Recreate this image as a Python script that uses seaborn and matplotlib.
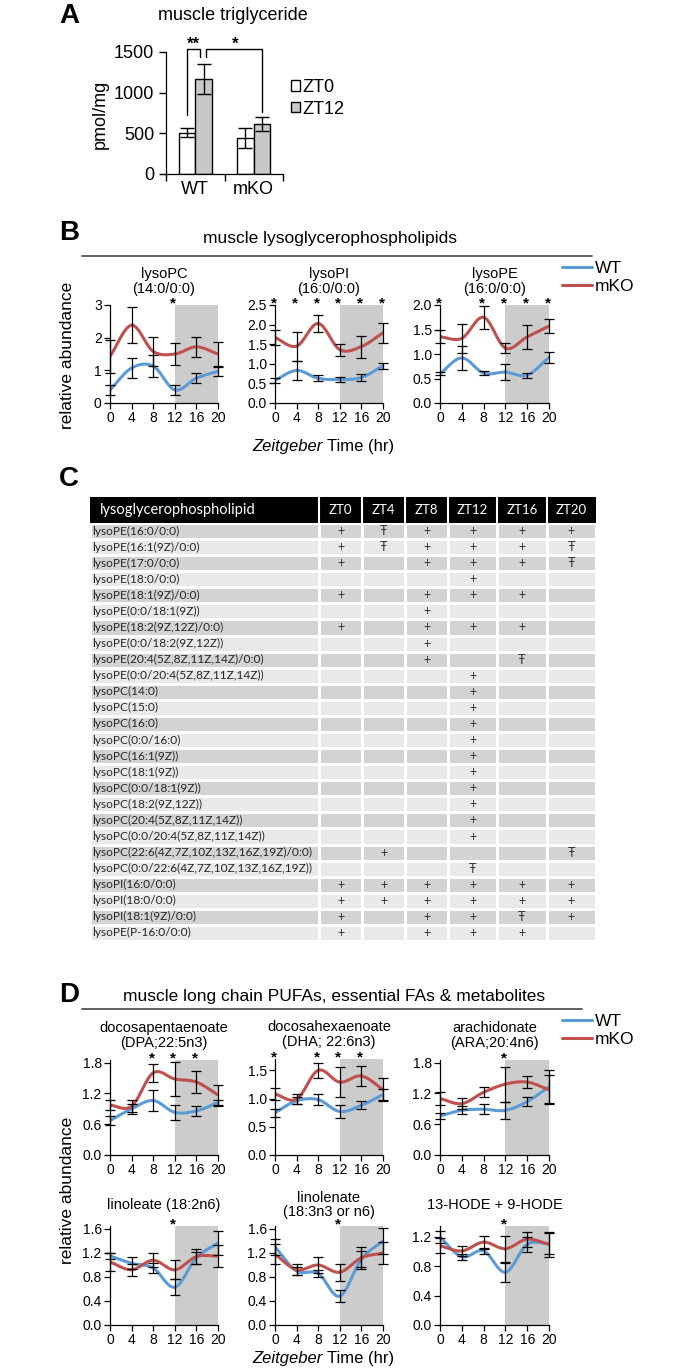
import numpy as np
import pandas as pd
import matplotlib
matplotlib.use('Agg')
import matplotlib.pyplot as plt
import seaborn as sns
from matplotlib.colors import ListedColormap
from matplotlib.lines import Line2D

sns.set_theme(style='ticks', rc={'axes.edgecolor': 'black', 'xtick.color': 'black',
                                 'ytick.color': 'black', 'text.color': 'black',
                                 'axes.labelcolor': 'black', 'axes.linewidth': 0.9})
plt.rcParams['font.family'] = ['Liberation Sans', 'DejaVu Sans']
TABLE_FONT = ['Lato', 'DejaVu Sans']

W, H = 692, 1370
BLUE = '#5b9bd5'
RED = '#c0504d'
SHADE = '#cccccc'

# ---- panel A data
tg_genotype = ['WT', 'WT', 'mKO', 'mKO']
tg_time = ['ZT0', 'ZT12', 'ZT0', 'ZT12']
tg_mean = [510, 1165, 440, 610]
tg_err = [60, 185, 125, 85]

# ---- time course data (B, D)
zt = [0, 4, 8, 12, 16, 20]

pc_wt = [0.40, 1.07, 1.13, 0.40, 0.76, 0.97]
pc_wt_err = [0.15, 0.30, 0.33, 0.15, 0.15, 0.13]
pc_ko = [1.43, 2.38, 1.58, 1.50, 1.72, 1.50]
pc_ko_err = [0.50, 0.55, 0.45, 0.35, 0.30, 0.36]
pc_stars = [12]

pi_wt = [0.58, 0.83, 0.63, 0.60, 0.65, 0.95]
pi_wt_err = [0.06, 0.25, 0.08, 0.07, 0.10, 0.08]
pi_ko = [1.67, 1.45, 2.03, 1.36, 1.44, 1.79]
pi_ko_err = [0.18, 0.37, 0.22, 0.15, 0.28, 0.25]
pi_stars = [0, 4, 8, 12, 16, 20]

pe_wt = [0.60, 0.92, 0.61, 0.63, 0.57, 0.93]
pe_wt_err = [0.03, 0.24, 0.04, 0.17, 0.05, 0.12]
pe_ko = [1.35, 1.32, 1.75, 1.12, 1.35, 1.57]
pe_ko_err = [0.13, 0.30, 0.23, 0.10, 0.25, 0.15]
pe_stars = [0, 8, 12, 16, 20]

dpa_wt = [0.67, 0.90, 1.06, 0.83, 0.86, 1.02]
dpa_wt_err = [0.09, 0.10, 0.21, 0.14, 0.10, 0.06]
dpa_ko = [0.97, 0.95, 1.60, 1.48, 1.42, 1.17]
dpa_ko_err = [0.10, 0.12, 0.18, 0.33, 0.21, 0.19]
dpa_stars = [8, 12, 16]

dha_wt = [0.75, 0.96, 0.98, 0.77, 0.88, 1.07]
dha_wt_err = [0.07, 0.06, 0.10, 0.11, 0.07, 0.10]
dha_ko = [1.08, 0.99, 1.50, 1.29, 1.40, 1.16]
dha_ko_err = [0.10, 0.09, 0.13, 0.26, 0.18, 0.21]
dha_stars = [0, 8, 12, 16]

ara_wt = [0.76, 0.87, 0.89, 0.87, 1.04, 1.33]
ara_wt_err = [0.06, 0.08, 0.10, 0.17, 0.09, 0.32]
ara_ko = [1.10, 1.00, 1.22, 1.38, 1.42, 1.27]
ara_ko_err = [0.12, 0.11, 0.10, 0.34, 0.12, 0.28]
ara_stars = [12]

la_wt = [1.15, 1.03, 0.95, 0.63, 1.12, 1.37]
la_wt_err = [0.05, 0.10, 0.08, 0.13, 0.10, 0.20]
la_ko = [1.05, 0.92, 1.08, 0.92, 1.14, 1.15]
la_ko_err = [0.15, 0.10, 0.12, 0.16, 0.12, 0.18]
la_stars = [12]

ln_wt = [1.30, 0.90, 0.86, 0.48, 1.10, 1.40]
ln_wt_err = [0.13, 0.07, 0.06, 0.10, 0.13, 0.22]
ln_ko = [1.18, 0.92, 1.00, 0.88, 1.12, 1.20]
ln_ko_err = [0.17, 0.09, 0.14, 0.14, 0.18, 0.18]
ln_stars = [12]

hode_wt = [1.20, 0.93, 1.01, 0.72, 1.10, 1.11]
hode_wt_err = [0.08, 0.04, 0.04, 0.13, 0.10, 0.14]
hode_ko = [1.08, 1.01, 1.13, 1.04, 1.17, 1.10]
hode_ko_err = [0.10, 0.07, 0.09, 0.18, 0.10, 0.17]
hode_stars = [12]

# ---- panel C table
table_cols = ['ZT0', 'ZT4', 'ZT8', 'ZT12', 'ZT16', 'ZT20']
table_lipids = [
    'lysoPE(16:0/0:0)', 'lysoPE(16:1(9Z)/0:0)', 'lysoPE(17:0/0:0)', 'lysoPE(18:0/0:0)',
    'lysoPE(18:1(9Z)/0:0)', 'lysoPE(0:0/18:1(9Z))', 'lysoPE(18:2(9Z,12Z)/0:0)',
    'lysoPE(0:0/18:2(9Z,12Z))', 'lysoPE(20:4(5Z,8Z,11Z,14Z)/0:0)',
    'lysoPE(0:0/20:4(5Z,8Z,11Z,14Z))', 'lysoPC(14:0)', 'lysoPC(15:0)', 'lysoPC(16:0)',
    'lysoPC(0:0/16:0)', 'lysoPC(16:1(9Z))', 'lysoPC(18:1(9Z))', 'lysoPC(0:0/18:1(9Z))',
    'lysoPC(18:2(9Z,12Z))', 'lysoPC(20:4(5Z,8Z,11Z,14Z))', 'lysoPC(0:0/20:4(5Z,8Z,11Z,14Z))',
    'lysoPC(22:6(4Z,7Z,10Z,13Z,16Z,19Z)/0:0)', 'lysoPC(0:0/22:6(4Z,7Z,10Z,13Z,16Z,19Z))',
    'lysoPI(16:0/0:0)', 'lysoPI(18:0/0:0)', 'lysoPI(18:1(9Z)/0:0)', 'lysoPE(P-16:0/0:0)',
]
# one string per lipid, one char per ZT column ('.' = nothing)
table_marks = [
    '+Ŧ++++', '+Ŧ+++Ŧ', '+.+++Ŧ', '...+..', '+.+++.', '..+...', '+.+++.', '..+...',
    '..+.Ŧ.', '...+..', '...+..', '...+..', '...+..', '...+..', '...+..', '...+..',
    '...+..', '...+..', '...+..', '...+..', '.+...Ŧ', '...Ŧ..', '++++++', '++++++',
    '+.++Ŧ+', '+.+++.',
]


def px_axes(l, t, r, b):
    return fig.add_axes([l / W, 1 - b / H, (r - l) / W, (b - t) / H])


def smooth(x, y, n=16):
    # catmull-rom, like excel's smoothed line
    p = np.column_stack([x, y]).astype(float)
    p = np.vstack([2 * p[0] - p[1], p, 2 * p[-1] - p[-2]])
    t = np.linspace(0, 1, n, endpoint=False)[:, None]
    out = []
    for i in range(1, len(p) - 2):
        p0, p1, p2, p3 = p[i - 1], p[i], p[i + 1], p[i + 2]
        out.append(0.5 * (2 * p1 + (p2 - p0) * t + (2 * p0 - 5 * p1 + 4 * p2 - p3) * t ** 2
                          + (3 * p1 - p0 - 3 * p2 + p3) * t ** 3))
    out.append(p[-2][None, :])
    out = np.vstack(out)
    return out[:, 0], out[:, 1]


def time_panel(box, title, wt, wt_err, ko, ko_err, stars, ymax, yticks, fmt, pad):
    ax = px_axes(*box)
    ax.axvspan(12, 20, color=SHADE, lw=0, zorder=0)
    for vals, col in [(wt, BLUE), (ko, RED)]:
        sx, sy = smooth(zt, vals)
        sns.lineplot(x=sx, y=sy, ax=ax, color=col, lw=2.2, estimator=None, sort=False, zorder=2)
    for vals, errs in [(wt, wt_err), (ko, ko_err)]:
        eb = ax.errorbar(zt, vals, yerr=errs, fmt='none', ecolor='black', elinewidth=0.9,
                         capsize=3.8, capthick=0.9, zorder=3)
        for c in eb.get_children():
            c.set_clip_on(False)
    for s in stars:
        ax.annotate('*', xy=(s, 1), xycoords=('data', 'axes fraction'), xytext=(-1, -1.5),
                    textcoords='offset points', ha='center', va='baseline', fontsize=11,
                    fontweight='bold')
    ax.set_xlim(0, 20)
    ax.set_ylim(0, ymax)
    ax.set_xticks(zt)
    ax.set_yticks(yticks)
    ax.set_yticklabels([fmt.format(v) for v in yticks])
    ax.tick_params(labelsize=10, length=4, width=0.9, pad=2)
    ax.set_title(title, fontsize=10.5, linespacing=1.05, pad=pad)
    sns.despine(ax=ax)
    return ax


fig = plt.figure(figsize=(W / 100, H / 100), dpi=100)

# ================= A
fig.text(69 / W, 1 - 16 / H, 'A', fontsize=20, fontweight='bold', ha='center', va='center')
fig.text(233 / W, 1 - 16 / H, 'muscle triglyceride', fontsize=13, ha='center', va='center')
tg = pd.DataFrame({'genotype': tg_genotype, 'time': tg_time, 'tg': tg_mean})
axA = px_axes(166, 52, 283, 174)
sns.barplot(data=tg, x='genotype', y='tg', hue='time', order=['WT', 'mKO'],
            hue_order=['ZT0', 'ZT12'], palette=['white', '#c8c8c8'], edgecolor='black',
            linewidth=1, width=0.57, errorbar=None, ax=axA)
for cont, t in zip(axA.containers, ['ZT0', 'ZT12']):
    for bar, g in zip(cont, ['WT', 'mKO']):
        i = [k for k in range(4) if tg_genotype[k] == g and tg_time[k] == t][0]
        axA.errorbar(bar.get_x() + bar.get_width() / 2, tg_mean[i], yerr=tg_err[i], fmt='none',
                     ecolor='black', elinewidth=1, capsize=5, capthick=1, zorder=3)
axA.set_xlim(-0.5, 1.5)
axA.set_ylim(0, 1500)
axA.set_yticks([0, 500, 1000, 1500])
axA.set_xticks([0, 1])
axA.set_xticks([-0.5, 0.5, 1.5], minor=True)
axA.tick_params(axis='x', which='major', length=0, labelsize=13, pad=5)
axA.tick_params(axis='x', which='minor', length=5, width=1)
axA.tick_params(axis='y', labelsize=13, length=5, width=1)
axA.set_xlabel('')
axA.set_ylabel('')
sns.despine(ax=axA)
# significance brackets
axA.plot([-0.14, -0.14, 0.08, 0.08], [725, 1537, 1537, 1440], color='black', lw=1, clip_on=False)
axA.plot([0.18, 0.18, 1.14, 1.14], [1440, 1537, 1537, 762], color='black', lw=1, clip_on=False)
axA.text(-0.03, 1545, '**', ha='center', va='baseline', fontsize=12, fontweight='bold')
axA.text(0.68, 1545, '*', ha='center', va='baseline', fontsize=12, fontweight='bold')
sns.move_legend(axA, 'upper left', bbox_to_anchor=(291 / W, 1 - 79 / H), bbox_transform=fig.transFigure,
                title=None, frameon=False, fontsize=13, handlelength=0.5, handleheight=0.5,
                handletextpad=0.15, labelspacing=0.25, borderpad=0, borderaxespad=0)
fig.text(100 / W, 1 - 114 / H, 'pmol/mg', rotation=90, fontsize=13, ha='center', va='center')

# ================= B
fig.text(69 / W, 1 - 233 / H, 'B', fontsize=20, fontweight='bold', ha='center', va='center')
fig.text(330 / W, 1 - 239 / H, 'muscle lysoglycerophospholipids', fontsize=12.5, ha='center', va='center')
fig.add_artist(Line2D([82 / W, 592 / W], [1 - 256 / H] * 2, color='#555555', lw=1.3))
b_panels = [
    ((110, 305, 218, 403), 'lysoPC\n(14:0/0:0)', pc_wt, pc_wt_err, pc_ko, pc_ko_err, pc_stars,
     3, [0, 1, 2, 3], '{:.0f}', 9),
    ((275, 305, 383, 403), 'lysoPI\n(16:0/0:0)', pi_wt, pi_wt_err, pi_ko, pi_ko_err, pi_stars,
     2.5, [0, 0.5, 1.0, 1.5, 2.0, 2.5], '{:.1f}', 9),
    ((440, 305, 549, 403), 'lysoPE\n(16:0/0:0)', pe_wt, pe_wt_err, pe_ko, pe_ko_err, pe_stars,
     2.0, [0, 0.5, 1.0, 1.5, 2.0], '{:.1f}', 9),
]
for spec in b_panels:
    time_panel(*spec)

fig.text(68 / W, 1 - 355 / H, 'relative abundance', rotation=90, fontsize=12.5, ha='center', va='center')
fig.text(323 / W, 1 - 446 / H, 'Zeitgeber', style='italic', fontsize=12, ha='right', va='center')
fig.text(327 / W, 1 - 446 / H, 'Time (hr)', fontsize=12, ha='left', va='center')

leg_handles = [Line2D([], [], color=BLUE, lw=2.2, label='WT'),
               Line2D([], [], color=RED, lw=2.2, label='mKO')]
fig.legend(handles=leg_handles, loc='upper left', bbox_to_anchor=(562 / W, 1 - 261 / H),
           frameon=False, fontsize=12.5, handlelength=1.7, handletextpad=0.2,
           labelspacing=0.15, borderpad=0, borderaxespad=0)

# ================= C
fig.text(69 / W, 1 - 479 / H, 'C', fontsize=20, fontweight='bold', ha='center', va='center')
col_edges = [319, 362, 405, 448, 497, 547, 596]
axh = px_axes(90, 497, 596, 523)
axh.set_facecolor('black')
axh.set_xlim(90, 596)
axh.set_ylim(0, 1)
axh.set_xticks([])
axh.set_yticks([])
for s in axh.spines.values():
    s.set_visible(False)
for xb in col_edges[:-1]:
    axh.axvline(xb, color='white', lw=1.5)
axh.text(100, 0.5, 'lysoglycerophospholipid', color='white', fontsize=10.5, ha='left', va='center',
         family=TABLE_FONT)
for name, l, r in zip(table_cols, col_edges[:-1], col_edges[1:]):
    axh.text((l + r) / 2, 0.5, name, color='white', fontsize=9.5, ha='center', va='center',
             family=TABLE_FONT)

marks = np.array([[c if c != '.' else '' for c in row] for row in table_marks])
shade = np.array([[i % 2] * 6 for i in range(len(table_lipids))])
row_cmap = ListedColormap(['#d3d3d3', '#e9e9e9'])

axl = px_axes(90, 523, 319, 941)
sns.heatmap(shade[:, :1], cmap=row_cmap, vmin=-0.5, vmax=1.5, cbar=False, linewidths=0.8,
            linecolor='white', xticklabels=False, yticklabels=False, ax=axl)
for i, name in enumerate(table_lipids):
    axl.text(0.008, i + 0.5, name, ha='left', va='center', fontsize=8.6, color='#262626',
             family=TABLE_FONT)
for sl, box in [(slice(0, 3), (319, 523, 448, 941)), (slice(3, 6), (448, 523, 596, 941))]:
    axt = px_axes(*box)
    sns.heatmap(shade[:, sl], annot=marks[:, sl], fmt='', cmap=row_cmap, vmin=-0.5, vmax=1.5,
                cbar=False, linewidths=0.8, linecolor='white', xticklabels=False,
                yticklabels=False, ax=axt,
                annot_kws={'fontsize': 9, 'color': '#333333', 'family': TABLE_FONT})

# ================= D
fig.text(69 / W, 1 - 995 / H, 'D', fontsize=20, fontweight='bold', ha='center', va='center')
fig.text(334 / W, 1 - 997 / H, 'muscle long chain PUFAs, essential FAs & metabolites', fontsize=12.5,
         ha='center', va='center')
fig.add_artist(Line2D([82 / W, 582 / W], [1 - 1009 / H] * 2, color='#555555', lw=1.3))
d_panels = [
    ((110, 1060, 218, 1155), 'docosapentaenoate\n(DPA;22:5n3)', dpa_wt, dpa_wt_err, dpa_ko, dpa_ko_err,
     dpa_stars, 1.85, [0, 0.6, 1.2, 1.8], '{:.1f}', 9.5),
    ((275, 1059, 383, 1155), 'docosahexaenoate\n(DHA; 22:6n3)', dha_wt, dha_wt_err, dha_ko, dha_ko_err,
     dha_stars, 1.7, [0, 0.5, 1.0, 1.5], '{:.1f}', 9.5),
    ((440, 1060, 549, 1155), 'arachidonate\n(ARA;20:4n6)', ara_wt, ara_wt_err, ara_ko, ara_ko_err,
     ara_stars, 1.85, [0, 0.6, 1.2, 1.8], '{:.1f}', 9.5),
    ((110, 1226, 218, 1325), 'linoleate (18:2n6)', la_wt, la_wt_err, la_ko, la_ko_err,
     la_stars, 1.65, [0, 0.4, 0.8, 1.2, 1.6], '{:.1f}', 12),
    ((275, 1226, 383, 1325), 'linolenate\n(18:3n3 or n6)', ln_wt, ln_wt_err, ln_ko, ln_ko_err,
     ln_stars, 1.65, [0, 0.4, 0.8, 1.2, 1.6], '{:.1f}', 7),
    ((440, 1226, 549, 1325), '13-HODE + 9-HODE', hode_wt, hode_wt_err, hode_ko, hode_ko_err,
     hode_stars, 1.35, [0, 0.4, 0.8, 1.2], '{:.1f}', 12),
]
for spec in d_panels:
    time_panel(*spec)

fig.text(68 / W, 1 - 1190 / H, 'relative abundance', rotation=90, fontsize=12.5, ha='center', va='center')
fig.text(323 / W, 1 - 1358 / H, 'Zeitgeber', style='italic', fontsize=12, ha='right', va='center')
fig.text(327 / W, 1 - 1358 / H, 'Time (hr)', fontsize=12, ha='left', va='center')
fig.legend(handles=leg_handles, loc='upper left', bbox_to_anchor=(562 / W, 1 - 1014 / H),
           frameon=False, fontsize=12.5, handlelength=1.7, handletextpad=0.2,
           labelspacing=0.15, borderpad=0, borderaxespad=0)

fig.savefig('out.png', dpi=100)
